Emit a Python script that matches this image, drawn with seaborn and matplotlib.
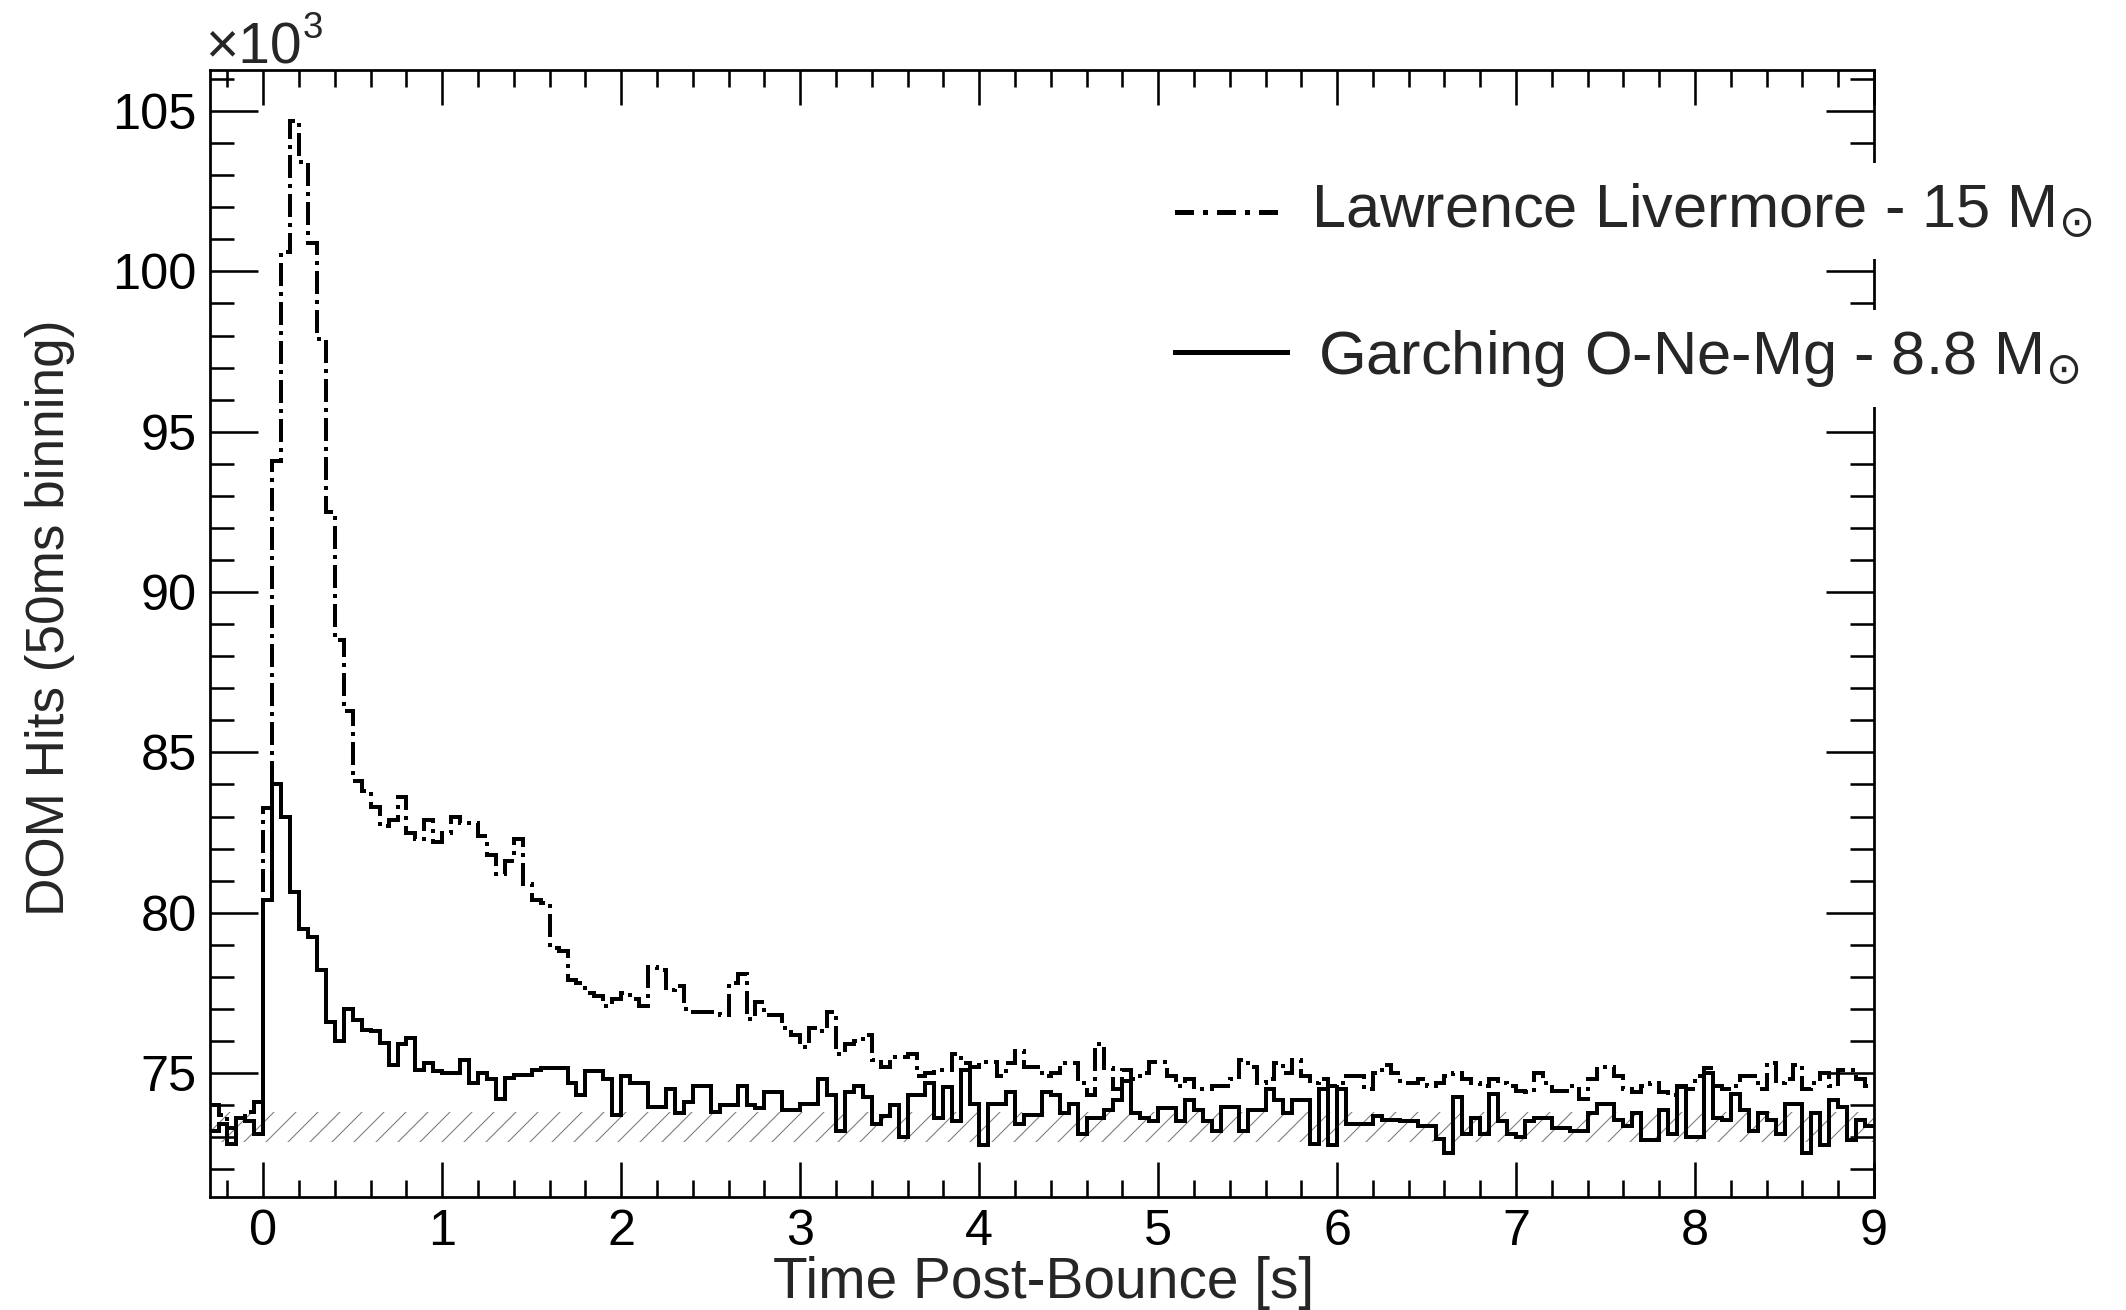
import numpy as np
import pandas as pd
import matplotlib
matplotlib.use("Agg")
import matplotlib.pyplot as plt
from matplotlib.lines import Line2D
from matplotlib.ticker import MultipleLocator, FixedLocator, FixedFormatter
import seaborn as sns

# ---------------- data (DOM hits in units of 10^3, 50 ms bins starting at -0.3 s) -------------
bin_start = -0.3
bin_width = 0.05

livermore_15 = [
    74.0, 73.7, 73.3, 73.6, 73.8, 74.1,
    83.25, 94.1, 100.6, 104.7, 103.4, 100.9, 97.9, 92.5, 88.5, 86.3,
    84.1, 83.8, 83.3, 82.7, 82.9, 83.6, 82.5, 82.3, 82.9, 82.2,
    82.5, 83.0, 82.8, 82.8, 82.4, 81.8, 81.2, 81.6, 82.3, 80.9,
    80.4, 80.3, 78.9, 78.8, 77.9, 77.8, 77.5, 77.4, 77.1, 77.3,
    77.5, 77.3, 77.1, 78.3, 78.2, 77.6, 77.7, 77.0, 76.9, 76.9,
    76.9, 76.8, 77.8, 78.1, 76.7, 77.2, 76.8, 76.8, 76.4, 76.2,
    75.8, 76.4, 76.3, 76.9, 75.6, 75.9, 76.0, 76.2, 75.4, 75.2,
    75.5, 75.5, 75.6, 74.9, 75.0, 75.1, 75.1, 75.6, 75.3, 75.2,
    75.35, 75.35, 74.9, 75.3, 75.7, 75.2, 75.2, 74.9, 75.0, 75.3,
    75.3, 74.7, 74.3, 75.9, 75.15, 74.5, 75.1, 74.8, 75.0, 75.35,
    75.35, 74.9, 74.6, 74.8, 74.5, 74.5, 74.6, 74.6, 74.8, 75.4,
    75.2, 74.7, 74.8, 75.3, 75.0, 75.4, 74.9, 74.7, 74.8, 74.6,
    74.7, 74.9, 74.9, 74.5, 75.0, 75.25, 75.0, 74.7, 74.7, 74.8,
    74.6, 74.7, 74.9, 75.0, 74.8, 74.7, 74.6, 74.8, 74.7, 74.6,
    74.45, 74.4, 75.0, 74.7, 74.45, 74.45, 74.6, 74.2, 74.8, 75.2,
    75.2, 74.9, 74.5, 74.4, 74.6, 74.7, 74.4, 74.3, 74.6, 74.5,
    74.9, 75.15, 74.6, 74.5, 74.6, 74.9, 74.9, 74.5, 75.3, 74.7,
    74.8, 75.25, 74.5, 74.7, 75.0, 74.6, 75.1, 75.1, 74.8, 74.6,
]

garching_88 = [
    73.2, 73.4, 72.8, 73.6, 73.5, 73.1,
    80.4, 84.0, 83.0, 80.65, 79.5, 79.25, 78.2, 76.6, 76.0, 77.0,
    76.65, 76.35, 76.3, 75.95, 75.25, 75.9, 76.1, 75.1, 75.3, 75.05,
    75.0, 75.0, 75.4, 74.7, 75.0, 74.8, 74.2, 74.85, 74.95, 74.95,
    75.1, 75.15, 75.15, 75.15, 74.7, 74.3, 75.05, 75.05, 74.8, 73.7,
    74.9, 74.7, 74.7, 73.95, 73.95, 74.5, 73.75, 74.1, 74.6, 74.6,
    73.8, 74.0, 74.0, 74.6, 74.0, 73.9, 74.4, 74.4, 73.85, 73.85,
    74.05, 74.05, 74.8, 74.3, 73.2, 74.4, 74.6, 74.25, 73.4, 73.65,
    74.0, 73.0, 74.3, 74.3, 74.7, 73.6, 74.55, 73.5, 75.1, 74.05,
    72.75, 74.05, 74.05, 74.4, 73.4, 73.7, 73.7, 74.4, 74.3, 73.75,
    74.05, 73.1, 73.6, 73.6, 73.85, 74.15, 74.75, 73.75, 73.6, 73.5,
    73.9, 73.9, 73.5, 74.15, 73.85, 73.5, 73.2, 73.95, 73.95, 73.2,
    73.85, 73.85, 74.5, 74.15, 73.75, 74.15, 74.15, 72.8, 74.5, 72.75,
    74.5, 73.4, 73.4, 73.4, 73.65, 73.55, 73.55, 73.5, 73.5, 73.35,
    73.35, 72.95, 72.5, 74.25, 73.1, 73.6, 73.1, 74.35, 73.5, 73.1,
    73.0, 73.5, 73.6, 73.6, 73.3, 73.3, 73.2, 73.2, 73.75, 74.05,
    74.05, 73.55, 73.35, 73.75, 72.9, 72.9, 73.85, 73.1, 74.55, 73.0,
    73.0, 75.0, 73.6, 73.55, 74.35, 73.85, 73.2, 73.75, 73.55, 73.1,
    74.05, 74.05, 72.5, 73.75, 72.75, 74.15, 73.95, 72.9, 73.55, 73.35,
]

background_low = 72.86
background_high = 73.79

model_names = ["Lawrence Livermore", "Garching O-Ne-Mg"]
legend_labels = ["Lawrence Livermore - 15 M$_{\\odot}$",
                 "Garching O-Ne-Mg - 8.8 M$_{\\odot}$"]
x_ticks = [0, 1, 2, 3, 4, 5, 6, 7, 8, 9]
y_ticks = [75, 80, 85, 90, 95, 100, 105]
x_label = "Time Post-Bounce [s]"
y_label = "DOM Hits (50ms binning)"

# ---------------- figure ----------------
W, H, DPI = 2126, 1310, 132
sns.set_style("ticks")
plt.rcParams["font.family"] = ["Liberation Sans", "DejaVu Sans"]
plt.rcParams["hatch.linewidth"] = 0.6
plt.rcParams["axes.linewidth"] = 1.5

fig = plt.figure(figsize=(W / DPI, H / DPI), dpi=DPI)
fig.patch.set_facecolor("white")


def fx(px):
    return px / W


def fy(py):
    return 1 - py / H


ax_l, ax_r, ax_t, ax_b = 209.6, 1874.0, 70.0, 1196.5
ax = fig.add_axes([fx(ax_l), fy(ax_b), (ax_r - ax_l) / W, (ax_b - ax_t) / H])
ax.set_facecolor("white")

n_bins = len(livermore_15)
edges = [float(v) for v in (bin_start + bin_width * np.arange(n_bins + 1))]
centers = [e + bin_width / 2 for e in edges[:-1]]

df = pd.DataFrame({
    "time": centers + centers,
    "hits": list(livermore_15) + list(garching_88),
    "model": [model_names[0]] * n_bins + [model_names[1]] * n_bins,
})

# background band (hatched)
ax.fill_between([edges[0], edges[-1]], background_low, background_high,
                facecolor="none", edgecolor="#808080", hatch="//", linewidth=0, zorder=1)

sns.histplot(data=df[df["model"] == model_names[1]], x="time", weights="hits",
             bins=edges, element="step", fill=False, color="black",
             linewidth=2.1, antialiased=False, ax=ax, zorder=3)
sns.histplot(data=df[df["model"] == model_names[0]], x="time", weights="hits",
             bins=edges, element="step", fill=False, color="black",
             linewidth=2.1, antialiased=False,
             linestyle=(0, (5.8, 1.6, 0.8, 1.6)), ax=ax, zorder=4)

ax.set_xlim(edges[0], edges[-1])
ax.set_ylim(71.15, 106.28)

ax.xaxis.set_major_locator(FixedLocator(x_ticks))
ax.xaxis.set_major_formatter(FixedFormatter([str(t) for t in x_ticks]))
ax.xaxis.set_minor_locator(MultipleLocator(0.2))
ax.yaxis.set_major_locator(FixedLocator(y_ticks))
ax.yaxis.set_major_formatter(FixedFormatter([str(t) for t in y_ticks]))
ax.yaxis.set_minor_locator(MultipleLocator(1))

ax.tick_params(which="both", direction="in", top=True, right=True,
               width=1.4, color="black", labelsize=27.5, labelcolor="black")
ax.tick_params(axis="x", which="major", length=19, pad=7)
ax.tick_params(axis="x", which="minor", length=9.3)
ax.tick_params(axis="y", which="major", length=26, pad=6.9)
ax.tick_params(axis="y", which="minor", length=13)
for s in ax.spines.values():
    s.set_visible(True)
    s.set_color("black")
    s.set_linewidth(1.5)

ax.set_xlabel(x_label, fontsize=31, va="center")
ax.xaxis.set_label_coords(0.501, -(1283 - ax_b) / (ax_b - ax_t))
ax.set_ylabel(y_label, fontsize=29, va="center", ha="center")
ax.yaxis.set_label_coords((50 - ax_l) / (ax_r - ax_l), (ax_b - 618) / (ax_b - ax_t))

# x10^3 multiplier
fig.text(fx(205), fy(63), "\u00d710", fontsize=31, ha="left", va="baseline")
fig.text(fx(303), fy(38), "3", fontsize=20, ha="left", va="baseline")

# legend (manual, ROOT style)
fig.add_artist(Line2D([fx(1175), fx(1283)], [fy(211.5), fy(211.5)],
                      transform=fig.transFigure, color="black", lw=2.7,
                      antialiased=False, linestyle=(0, (3.8, 2.0, 1.0, 2.0))))
fig.add_artist(Line2D([fx(1175), fx(1287)], [fy(352), fy(352)],
                      transform=fig.transFigure, color="black", lw=2.7,
                      antialiased=False))
box = dict(facecolor="white", edgecolor="none", boxstyle="square,pad=0.3")
fig.text(fx(1311), fy(228), legend_labels[0], fontsize=33.5, ha="left",
         va="baseline", bbox=box, zorder=10)
fig.text(fx(1318), fy(374), legend_labels[1], fontsize=33.5, ha="left",
         va="baseline", bbox=box, zorder=10)

fig.savefig("out.png", dpi=DPI, facecolor="white")
